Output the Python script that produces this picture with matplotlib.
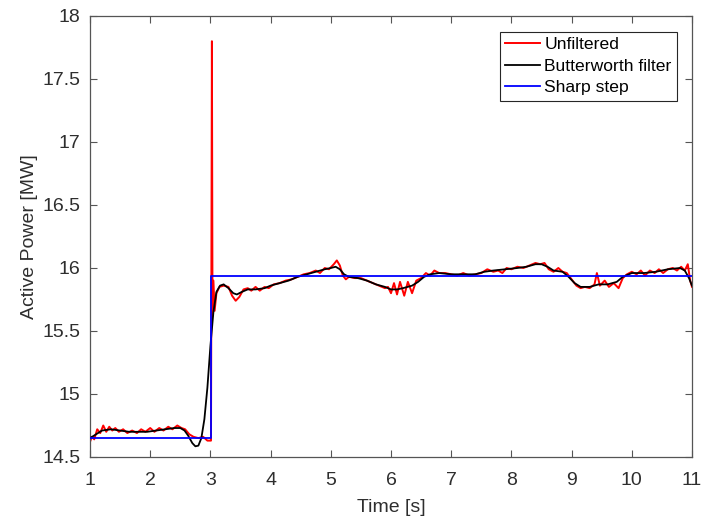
import matplotlib
matplotlib.use("Agg")
import matplotlib.pyplot as plt

plt.rcParams['font.family'] = ['Liberation Sans', 'DejaVu Sans']

# Butterworth-filtered signal (time [s], power [MW])
t_filt = [1.00, 1.10, 1.20, 1.35, 1.50, 1.65, 1.80, 1.95, 2.10, 2.25, 2.40, 2.50,
          2.57, 2.63, 2.70, 2.75, 2.80, 2.85, 2.90, 2.95, 3.00, 3.05, 3.10, 3.16,
          3.22, 3.30, 3.38, 3.44, 3.52, 3.62, 3.75, 3.90, 4.00, 4.15, 4.30, 4.45,
          4.60, 4.75, 4.90, 5.00, 5.08, 5.15, 5.22, 5.30, 5.45, 5.60, 5.75, 5.90,
          6.00, 6.10, 6.20, 6.35, 6.45, 6.55, 6.65, 6.80, 7.00, 7.20, 7.40, 7.55,
          7.70, 7.90, 8.10, 8.25, 8.40, 8.50, 8.60, 8.70, 8.85, 8.95, 9.05, 9.15,
          9.30, 9.45, 9.60, 9.75, 9.85, 10.00, 10.20, 10.40, 10.60, 10.80, 10.88,
          10.95, 11.00]
p_filt = [14.65, 14.68, 14.71, 14.72, 14.71, 14.70, 14.70, 14.70, 14.71, 14.72, 14.73, 14.73,
          14.71, 14.67, 14.61, 14.585, 14.59, 14.65, 14.80, 15.05, 15.38, 15.65, 15.81, 15.86,
          15.87, 15.84, 15.80, 15.79, 15.81, 15.83, 15.83, 15.84, 15.86, 15.88, 15.90, 15.93,
          15.95, 15.97, 15.99, 16.00, 16.01, 15.99, 15.95, 15.93, 15.92, 15.90, 15.87, 15.85,
          15.83, 15.83, 15.84, 15.86, 15.89, 15.93, 15.95, 15.96, 15.95, 15.95, 15.95, 15.97,
          15.98, 15.99, 16.00, 16.01, 16.03, 16.03, 16.01, 15.98, 15.97, 15.93, 15.88, 15.85,
          15.85, 15.87, 15.87, 15.89, 15.93, 15.96, 15.96, 15.97, 15.99, 16.00, 15.98,
          15.92, 15.86]

# Unfiltered signal
t_raw = [1.00, 1.03, 1.07, 1.12, 1.17, 1.22, 1.27, 1.32, 1.37, 1.42, 1.48, 1.55,
         1.62, 1.70, 1.78, 1.85, 1.92, 2.00, 2.07, 2.15, 2.22, 2.30, 2.37, 2.45,
         2.52, 2.58, 2.65, 2.72, 2.80, 2.88, 2.95, 3.01, 3.025, 3.035, 3.05, 3.07,
         3.10, 3.15, 3.22, 3.30, 3.36, 3.42, 3.48, 3.55, 3.62, 3.68, 3.75, 3.82,
         3.90, 3.97, 4.05, 4.15, 4.25, 4.35, 4.45, 4.55, 4.65, 4.75, 4.82, 4.90,
         4.97, 5.05, 5.10, 5.15, 5.20, 5.25, 5.30, 5.40, 5.50, 5.60, 5.70, 5.80,
         5.90, 5.95, 6.00, 6.05, 6.10, 6.15, 6.22, 6.28, 6.35, 6.42, 6.50, 6.58,
         6.65, 6.72, 6.80, 6.90, 7.00, 7.10, 7.20, 7.30, 7.40, 7.50, 7.60, 7.70,
         7.78, 7.85, 7.92, 8.00, 8.10, 8.20, 8.30, 8.40, 8.48, 8.55, 8.62, 8.70,
         8.78, 8.85, 8.92, 9.00, 9.08, 9.15, 9.22, 9.30, 9.38, 9.42, 9.47, 9.55,
         9.62, 9.70, 9.78, 9.85, 9.92, 10.00, 10.08, 10.15, 10.22, 10.30, 10.38,
         10.45, 10.52, 10.60, 10.68, 10.75, 10.82, 10.88, 10.93, 10.97, 11.00]
p_raw = [14.62, 14.66, 14.64, 14.72, 14.69, 14.75, 14.70, 14.74, 14.71, 14.73, 14.70, 14.72,
         14.69, 14.71, 14.69, 14.72, 14.70, 14.73, 14.70, 14.73, 14.71, 14.74, 14.72, 14.75,
         14.73, 14.72, 14.68, 14.66, 14.65, 14.66, 14.63, 14.63, 17.80, 15.62, 15.90, 15.66,
         15.80, 15.85, 15.86, 15.85, 15.78, 15.74, 15.77, 15.83, 15.84, 15.82, 15.85, 15.82,
         15.85, 15.84, 15.87, 15.88, 15.90, 15.91, 15.93, 15.95, 15.96, 15.98, 15.96, 16.00,
         15.99, 16.03, 16.06, 16.02, 15.94, 15.91, 15.93, 15.92, 15.92, 15.90, 15.88, 15.86,
         15.84, 15.85, 15.80, 15.88, 15.79, 15.89, 15.78, 15.89, 15.80, 15.90, 15.92, 15.96,
         15.94, 15.98, 15.96, 15.96, 15.95, 15.94, 15.96, 15.94, 15.95, 15.96, 15.99, 15.97,
         15.98, 15.96, 16.00, 15.99, 16.01, 16.00, 16.02, 16.04, 16.03, 16.04, 15.99, 15.97,
         16.00, 15.97, 15.96, 15.91, 15.86, 15.84, 15.85, 15.84, 15.87, 15.96, 15.86, 15.90,
         15.85, 15.88, 15.84, 15.92, 15.95, 15.97, 15.95, 15.98, 15.94, 15.98, 15.96,
         15.99, 15.96, 15.99, 16.00, 15.98, 16.01, 15.98, 16.03, 15.90, 15.85]

# Sharp step
t_step = [1.00, 3.015, 11.00]
p_step = [14.65, 15.94, 15.94]

x_ticks = [1, 2, 3, 4, 5, 6, 7, 8, 9, 10, 11]
y_ticks = [14.5, 15, 15.5, 16, 16.5, 17, 17.5, 18]
y_ticklabels = ['14.5', '15', '15.5', '16', '16.5', '17', '17.5', '18']

FS = 14
FS_LEG = 12.6
TXT = '#2e2e2e'

fig = plt.figure(figsize=(7.10, 5.17), dpi=100)
ax = fig.add_axes([90 / 710, 1 - 457 / 517, (692 - 90) / 710, (457 - 16) / 517])

ax.plot(t_raw, p_raw, color='#ff0000', lw=1.4, label='Unfiltered', zorder=2)
ax.plot(t_filt, p_filt, color='black', lw=1.3, label='Butterworth filter', zorder=3)
ax.plot(t_step, p_step, color='#0000ff', lw=1.3, drawstyle='steps-post',
        label='Sharp step', zorder=4)

ax.set_xlim(1, 11)
ax.set_ylim(14.5, 18)
ax.set_xticks(x_ticks)
ax.set_yticks(y_ticks)
ax.set_yticklabels(y_ticklabels)

for s in ax.spines.values():
    s.set_color('#555555')
    s.set_linewidth(0.9)
ax.tick_params(direction='in', top=True, right=True, length=5, width=0.8,
               colors='#555555', labelcolor=TXT, labelsize=FS)
ax.tick_params(axis='x', pad=11)
ax.tick_params(axis='y', pad=7)

ax.set_xlabel('Time [s]', fontsize=FS, color=TXT, labelpad=7)
ax.set_ylabel('Active Power [MW]', fontsize=FS, color=TXT, labelpad=3)

leg = ax.legend(loc='upper right', bbox_to_anchor=((677 - 90) / 602, (457 - 31.7) / 441),
                fontsize=FS_LEG, frameon=True, fancybox=False, framealpha=1,
                edgecolor='#262626', handlelength=2.0, handletextpad=0.25,
                borderpad=0.3, labelspacing=0.36, borderaxespad=0.0)
leg.get_frame().set_linewidth(0.8)

fig.savefig('out.png', dpi=100)
